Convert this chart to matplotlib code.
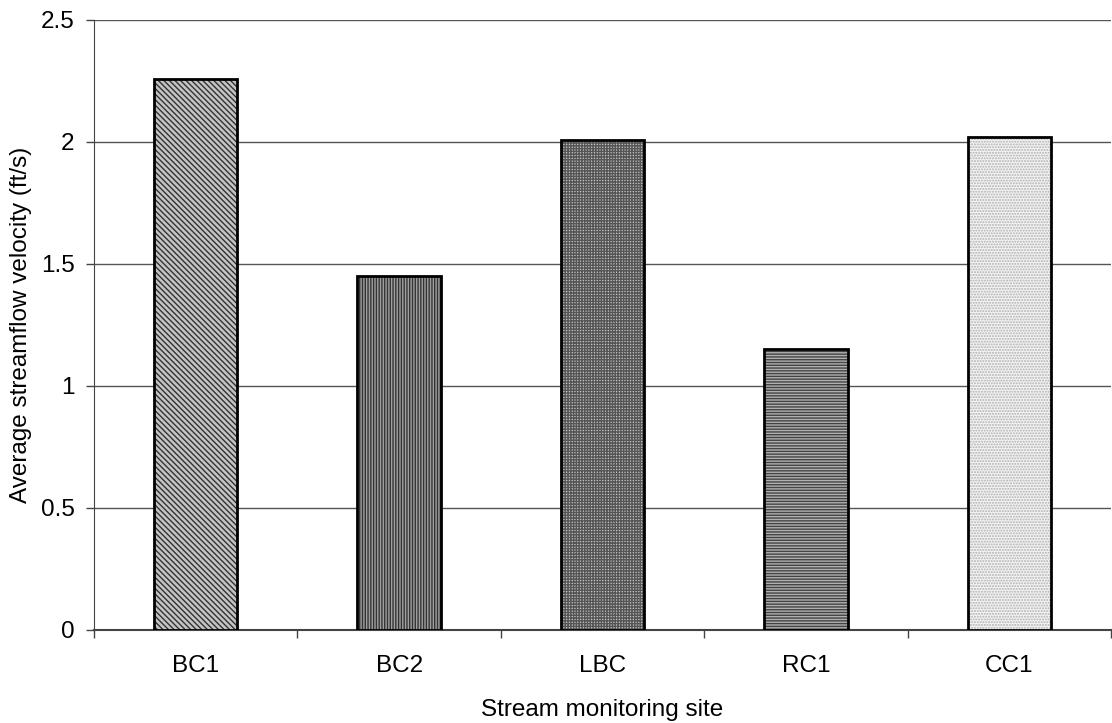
import matplotlib
matplotlib.use("Agg")
import matplotlib.pyplot as plt
import numpy as np

sites = ["BC1", "BC2", "LBC", "RC1", "CC1"]
velocity = [2.26, 1.45, 2.01, 1.15, 2.02]
hatches = ["\\\\\\\\\\\\", "||||||", "++++++", "------", "......"]
hatch_colors = ["#333333", "#333333", "#555555", "#444444", "#b0b0b0"]
face_colors = ["#c4c4c4", "#a0a0a0", "#c0c0c0", "#b0b0b0", "#f4f4f4"]

plt.rcParams["font.family"] = ["Liberation Sans", "DejaVu Sans"]
plt.rcParams["hatch.linewidth"] = 1.0

fig = plt.figure(figsize=(11.12, 7.23), dpi=100)
ax = fig.add_axes([94 / 1112, 93 / 723, 1017 / 1112, 610 / 723])

x = np.arange(len(sites))
for i in range(len(sites)):
    ax.bar(x[i], velocity[i], width=0.41, color=face_colors[i],
           edgecolor=hatch_colors[i], hatch=hatches[i], linewidth=0, zorder=3)
    ax.bar(x[i], velocity[i], width=0.41, fill=False,
           edgecolor="black", linewidth=2, zorder=4)

fs = 17.5
ax.set_xlim(-0.5, len(sites) - 0.5)
ax.set_ylim(0, 2.5)
ax.set_yticks([0, 0.5, 1, 1.5, 2, 2.5])
ax.set_yticklabels(["0", "0.5", "1", "1.5", "2", "2.5"])
ax.set_xticks(x)
ax.set_xticklabels(sites)
ax.set_xticks(np.arange(-0.5, len(sites), 1.0), minor=True)
ax.tick_params(axis="x", which="major", length=0, pad=18, labelsize=fs)
ax.tick_params(axis="x", which="minor", length=6, width=1, color="#444444")
ax.tick_params(axis="y", length=6, width=1, color="#444444", labelsize=fs, pad=8)

ax.yaxis.grid(True, color="#555555", linewidth=1, zorder=0)
ax.set_axisbelow(True)
for side in ["top", "right"]:
    ax.spines[side].set_visible(False)
ax.spines["left"].set_color("#444444")
ax.spines["bottom"].set_color("#444444")
ax.spines["bottom"].set_linewidth(1.5)

ax.set_xlabel("Stream monitoring site", fontsize=fs, labelpad=16)
ax.set_ylabel("Average streamflow velocity (ft/s)", fontsize=fs, labelpad=6)

fig.savefig("out.png", dpi=100)
